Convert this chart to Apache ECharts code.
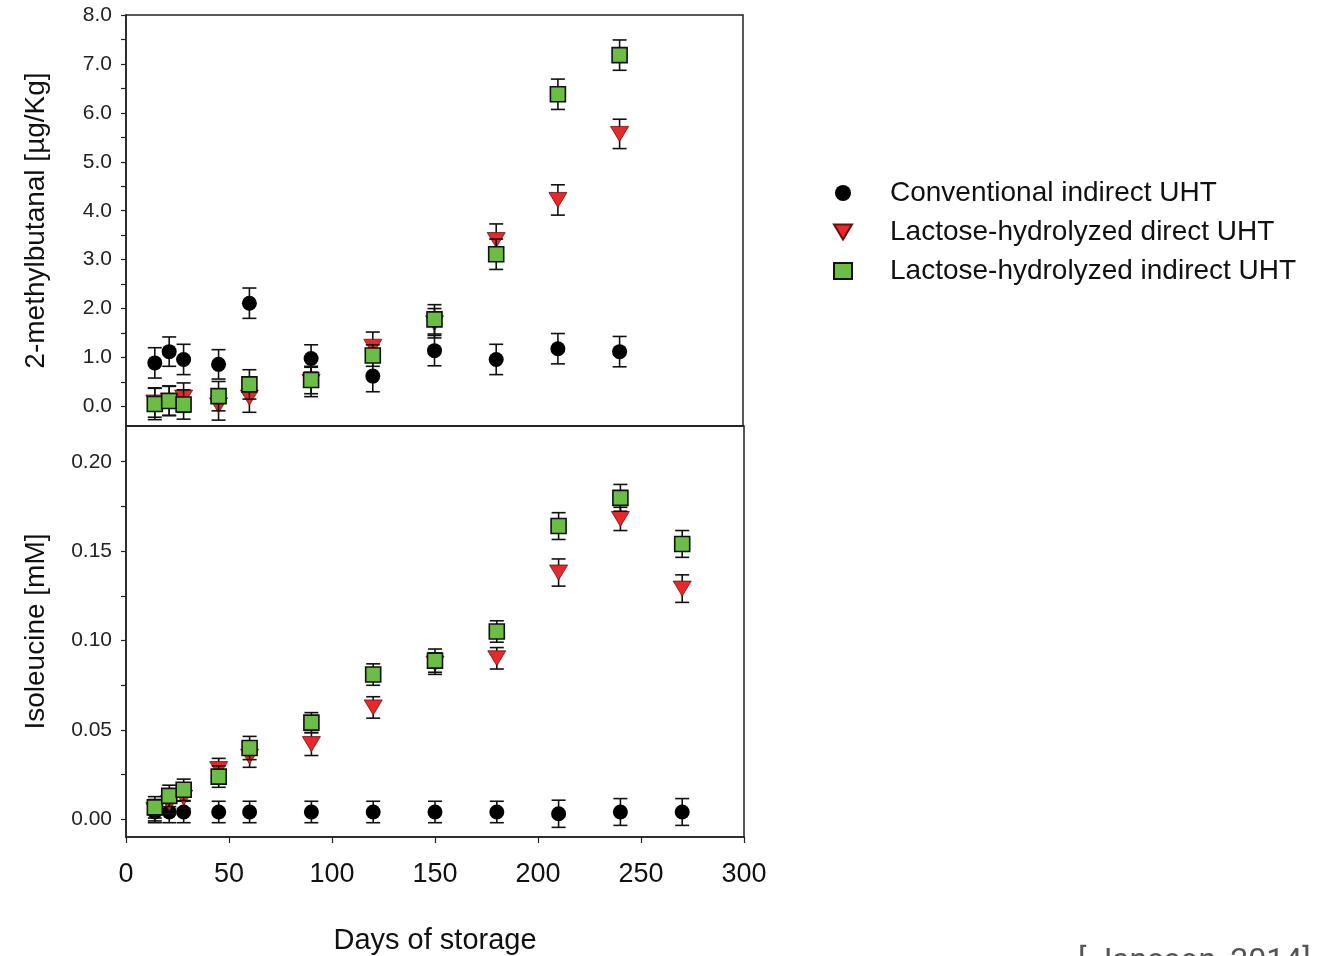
<!DOCTYPE html>
<html>
<head>
<meta charset="utf-8">
<script src="https://cdn.jsdelivr.net/npm/echarts@6/dist/echarts.min.js"></script>
<style>
  html, body { margin: 0; padding: 0; background: #fff; }
  #chart { width: 1340px; height: 956px; }
</style>
</head>
<body>
<div id="chart"></div>
<script>
// storage days
const daysTop = [14, 21, 28, 45, 60, 90, 120, 150, 180, 210, 240]
const daysBottom = [14, 21, 28, 45, 60, 90, 120, 150, 180, 210, 240, 270]

// 2-methylbutanal [µg/Kg]
const convTop = [0.89, 1.12, 0.96, 0.86, 2.11, 0.98, 0.62, 1.14, 0.96, 1.18, 1.12]
const convTopErr = [0.31, 0.30, 0.31, 0.30, 0.31, 0.28, 0.32, 0.31, 0.31, 0.31, 0.31]
const directTop = [0.08, 0.12, 0.18, 0.02, 0.18, 0.50, 1.22, 1.70, 3.40, 4.22, 5.57]
const directTopErr = [0.30, 0.30, 0.30, 0.30, 0.30, 0.30, 0.30, 0.30, 0.33, 0.31, 0.30]
const indirectTop = [0.05, 0.11, 0.04, 0.21, 0.45, 0.54, 1.04, 1.78, 3.11, 6.38, 7.18]
const indirectTopErr = [0.32, 0.30, 0.30, 0.30, 0.30, 0.28, 0.22, 0.30, 0.31, 0.31, 0.31]

// Isoleucine [mM]
const convBottom = [0.004, 0.004, 0.004, 0.004, 0.004, 0.004, 0.004, 0.004, 0.004, 0.003, 0.004, 0.004]
const convBottomErr = [0.006, 0.006, 0.006, 0.006, 0.006, 0.006, 0.006, 0.006, 0.006, 0.0076, 0.0075, 0.0075]
const directBottom = [0.005, 0.009, 0.012, 0.028, 0.035, 0.042, 0.0625, 0.087, 0.090, 0.138, 0.168, 0.129]
const directBottomErr = [0.006, 0.006, 0.006, 0.006, 0.006, 0.0064, 0.006, 0.006, 0.006, 0.0076, 0.0065, 0.0077]
const indirectBottom = [0.0066, 0.013, 0.0164, 0.0238, 0.0398, 0.054, 0.0809, 0.0887, 0.105, 0.164, 0.1798, 0.154]
const indirectBottomErr = [0.006, 0.006, 0.006, 0.006, 0.0065, 0.0056, 0.006, 0.0065, 0.006, 0.0075, 0.0075, 0.0075]

// ticks
const xTicks = [0, 50, 100, 150, 200, 250, 300]
const topTickLabels = [0, 1, 2, 3, 4, 5, 6, 7, 8]
const topMinorTicks = [0, 0.5, 1, 1.5, 2, 2.5, 3, 3.5, 4, 4.5, 5, 5.5, 6, 6.5, 7, 7.5, 8]
const bottomTickLabels = [0, 0.05, 0.1, 0.15, 0.2]
const bottomMinorTicks = [0, 0.025, 0.05, 0.075, 0.1, 0.125, 0.15, 0.175, 0.2]

const names = ['Conventional indirect UHT', 'Lactose-hydrolyzed direct UHT', 'Lactose-hydrolyzed indirect UHT']

const FONT = '"Liberation Sans", Arial, sans-serif'
const INK = '#222'

const pairs = (xs, ys) => xs.map((x, i) => [x, ys[i]])
const errData = (xs, ys, es) => xs.map((x, i) => [x, ys[i] - es[i], ys[i] + es[i]])

function renderErr(params, api) {
  const x = api.value(0)
  const top = api.coord([x, api.value(2)])
  const bot = api.coord([x, api.value(1)])
  const w = 7
  const style = { stroke: '#111', lineWidth: 1.6 }
  return {
    type: 'group',
    children: [
      { type: 'line', shape: { x1: top[0], y1: top[1], x2: bot[0], y2: bot[1] }, style },
      { type: 'line', shape: { x1: top[0] - w, y1: top[1], x2: top[0] + w, y2: top[1] }, style },
      { type: 'line', shape: { x1: bot[0] - w, y1: bot[1], x2: bot[0] + w, y2: bot[1] }, style }
    ]
  }
}

const markers = [
  { symbol: 'circle', symbolSize: 15, itemStyle: { color: '#000', opacity: 1 } },
  { symbol: 'path://M0,0 L18,0 L9,15 Z', symbolSize: [18, 15], itemStyle: { color: '#e8282b', borderColor: '#6a1010', borderWidth: 0.8, opacity: 1 } },
  { symbol: 'rect', symbolSize: 15, itemStyle: { color: '#6cbd45', borderColor: '#111', borderWidth: 1.6, opacity: 1 } }
]

function panelSeries(idx, xs, groups) {
  const out = []
  groups.forEach((g, k) => {
    out.push({
      type: 'custom',
      name: 'err' + idx + k,
      xAxisIndex: idx, yAxisIndex: idx,
      renderItem: renderErr,
      data: errData(xs, g[0], g[1]),
      z: 2 + k * 2,
      silent: true
    })
    out.push(Object.assign({
      type: 'scatter',
      name: names[k],
      xAxisIndex: idx, yAxisIndex: idx,
      data: pairs(xs, g[0]),
      z: 3 + k * 2
    }, markers[k]))
  })
  return out
}

const chart = echarts.init(document.getElementById('chart'))

const yCommon = {
  type: 'value',
  axisLine: { show: true, onZero: false, lineStyle: { color: INK, width: 1.5 } },
  axisTick: { show: true, length: 5, lineStyle: { color: INK, width: 1.2 } },
  splitLine: { show: false },
  nameLocation: 'middle',
  nameGap: 76,
  nameTextStyle: { fontFamily: FONT, fontSize: 28, color: '#111' }
}

const option = {
  animation: false,
  backgroundColor: '#fff',
  grid: [
    { left: 126, top: 15, width: 617, height: 411, show: true, borderColor: INK, borderWidth: 1.5 },
    { left: 126, top: 426, width: 618, height: 412, show: true, borderColor: INK, borderWidth: 1.5 }
  ],
  xAxis: [
    {
      type: 'value', gridIndex: 0, min: 0, max: 300, interval: 50,
      axisLine: { show: true, onZero: false, lineStyle: { color: INK, width: 1.5 } },
      axisTick: { show: false }, axisLabel: { show: false }, splitLine: { show: false }
    },
    {
      type: 'value', gridIndex: 1, min: 0, max: 300, interval: 50,
      axisLine: { show: true, onZero: false, lineStyle: { color: INK, width: 1.5 } },
      axisTick: { show: true, length: 6, lineStyle: { color: INK, width: 1.2 } },
      axisLabel: {
        margin: 24, fontFamily: FONT, fontSize: 27, color: '#111',
        customValues: xTicks
      },
      splitLine: { show: false },
      name: 'Days of storage', nameLocation: 'middle', nameGap: 89,
      nameTextStyle: { fontFamily: FONT, fontSize: 29, color: '#111' }
    }
  ],
  yAxis: [
    Object.assign({}, yCommon, {
      gridIndex: 0, min: -0.4, max: 8.0,
      name: '2-methylbutanal [µg/Kg]',
      axisTick: Object.assign({}, yCommon.axisTick, { customValues: topMinorTicks }),
      axisLabel: {
        customValues: topTickLabels, margin: 14,
        fontFamily: FONT, fontSize: 21, color: INK,
        formatter: v => v.toFixed(1)
      }
    }),
    Object.assign({}, yCommon, {
      gridIndex: 1, min: -0.01, max: 0.22,
      name: 'Isoleucine [mM]',
      axisTick: Object.assign({}, yCommon.axisTick, { customValues: bottomMinorTicks }),
      axisLabel: {
        customValues: bottomTickLabels, margin: 14,
        fontFamily: FONT, fontSize: 21, color: INK,
        formatter: v => v.toFixed(2)
      }
    })
  ],
  legend: {
    orient: 'vertical',
    left: 828, top: 174,
    itemWidth: 18, itemHeight: 16,
    itemGap: 11,
    data: names,
    selectedMode: false,
    textStyle: { fontFamily: FONT, fontSize: 28, color: '#111', padding: [0, 0, 0, 33] }
  },
  graphic: [
    {
      type: 'text', left: 1078, top: 946,
      style: { text: '[ Jansson, 2014]', fontFamily: 'Roboto, sans-serif', fontSize: 32, fill: '#555' }
    }
  ],
  series: [].concat(
    panelSeries(0, daysTop, [[convTop, convTopErr], [directTop, directTopErr], [indirectTop, indirectTopErr]]),
    panelSeries(1, daysBottom, [[convBottom, convBottomErr], [directBottom, directBottomErr], [indirectBottom, indirectBottomErr]])
  )
}

chart.setOption(option)
</script>
</body>
</html>
